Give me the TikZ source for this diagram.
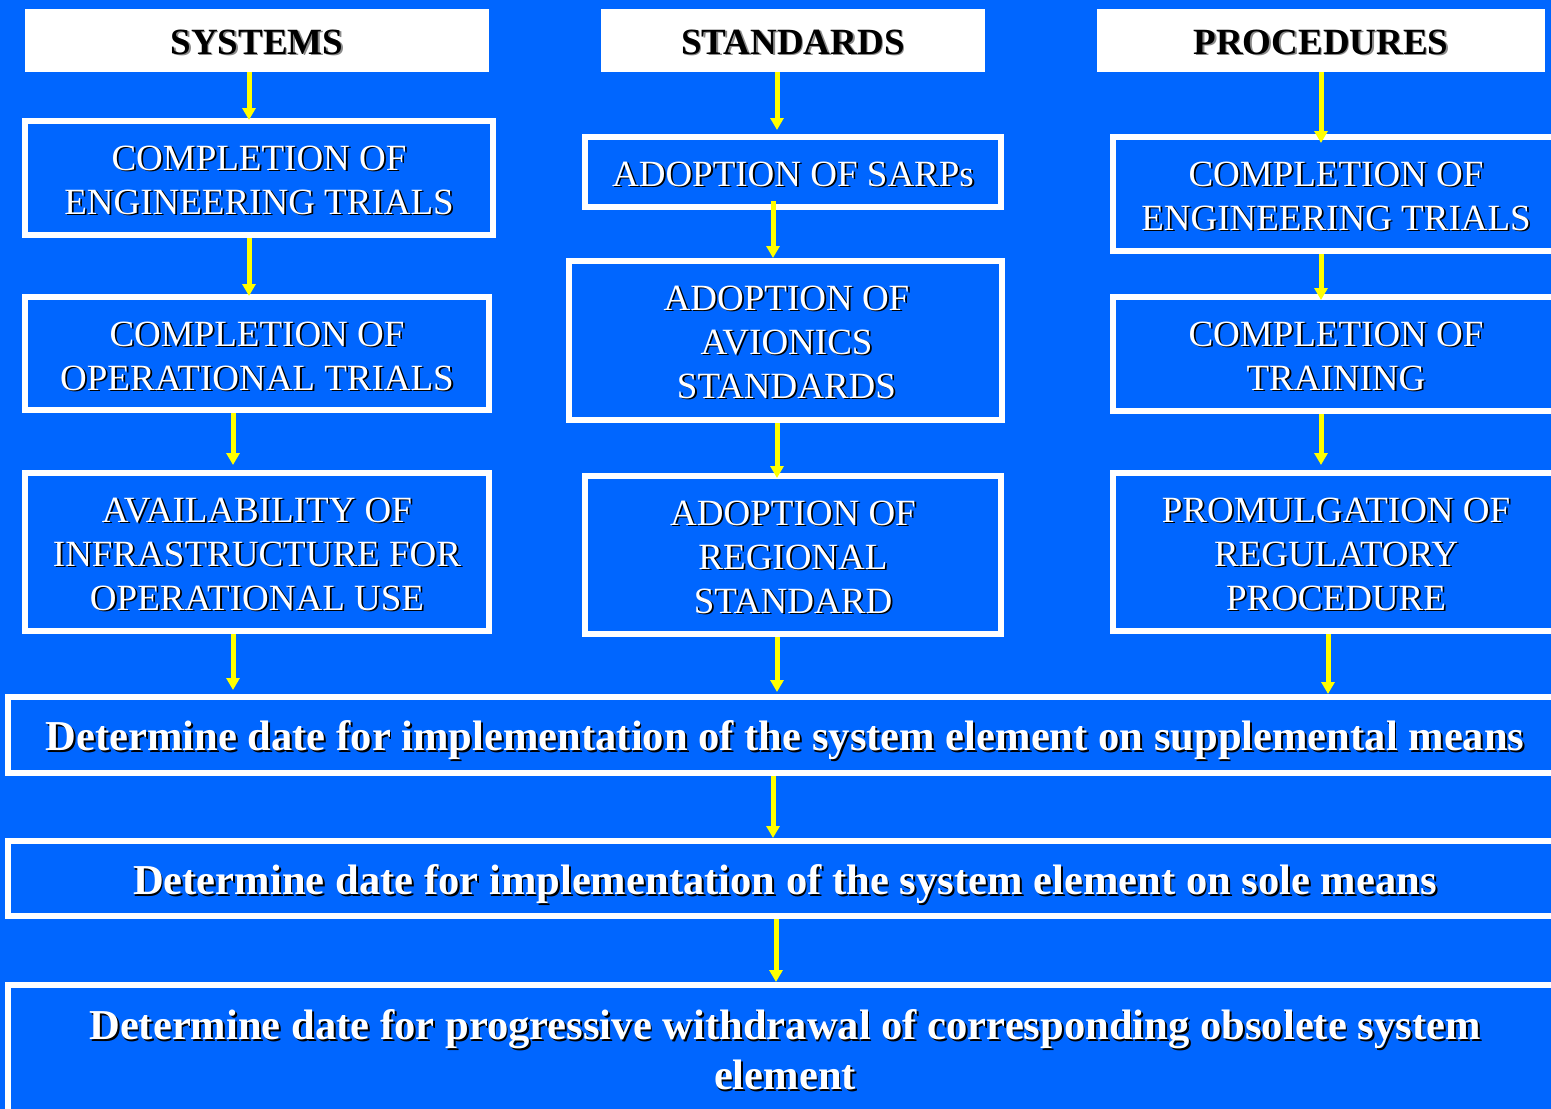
\documentclass[tikz,border=0pt]{standalone}
\usepackage{fontspec}
\setmainfont{Liberation Serif}
\usetikzlibrary{arrows.meta,calc}
\definecolor{bgblue}{RGB}{0,102,255}
\definecolor{arry}{RGB}{255,255,0}
\tikzset{
  boxst/.style={draw=white,line width=6pt,fill=bgblue,rectangle,inner sep=0pt},
  headst/.style={fill=white,draw=none,rectangle,inner sep=0pt,outer sep=0pt},
  txtst/.style={align=center,inner sep=0pt,outer sep=0pt},
  arr/.style={draw=arry,line width=5pt,-{Triangle[length=12pt,width=13pt]}},
  smallf/.style={font=\fontsize{37}{44}\selectfont},
  headf/.style={font=\bfseries\fontsize{37}{44}\selectfont},
  bigf/.style={font=\bfseries\fontsize{42.6}{50}\selectfont}
}
\newcommand\shtxt[5]{% name, x, y, style, text
  \node[txtst,#4,text=black] (#1s) at ($(#2,#3)+(1.8,1.8)$) {#5};
  \node[txtst,#4,text=white] (#1) at (#2,#3) {#5};}
\newcommand\hdtxt[4]{% name, x, y, text
  \node[txtst,headf,text=black!45] (#1s) at ($(#2,#3)+(1.5,1.5)$) {#4};
  \node[txtst,headf,text=black] (#1) at (#2,#3) {#4};}
\begin{document}
\begin{tikzpicture}[x=1pt,y=-1pt]
\fill[bgblue] (0,0) rectangle (1551,1109);
\useasboundingbox (0,0) rectangle (1551,1109);
% headers
\node[headst,minimum width=464pt,minimum height=63pt] (h1) at (257,40.5) {};
\node[headst,minimum width=384pt,minimum height=63pt] (h2) at (793,40.5) {};
\node[headst,minimum width=448pt,minimum height=63pt] (h3) at (1321,40.5) {};
\hdtxt{h1t}{257}{42}{SYSTEMS}
\hdtxt{h2t}{793}{42}{STANDARDS}
\hdtxt{h3t}{1321}{42}{PROCEDURES}
% column boxes
\node[boxst,minimum width=468pt,minimum height=114pt] (s1) at (259,178) {};
\node[boxst,minimum width=464pt,minimum height=113pt] (s2) at (257,353.5) {};
\node[boxst,minimum width=464pt,minimum height=158pt] (s3) at (257,552) {};
\node[boxst,minimum width=416pt,minimum height=70pt] (t1) at (793,172) {};
\node[boxst,minimum width=433pt,minimum height=159pt] (t2) at (785.5,340.5) {};
\node[boxst,minimum width=416pt,minimum height=158pt] (t3) at (793,555) {};
\node[boxst,minimum width=446pt,minimum height=114pt] (p1) at (1336,194) {};
\node[boxst,minimum width=446pt,minimum height=114pt] (p2) at (1336,354) {};
\node[boxst,minimum width=446pt,minimum height=158pt] (p3) at (1336,552) {};
% bottom boxes
\node[boxst,minimum width=1554pt,minimum height=76pt] (A) at (785,735) {};
\node[boxst,minimum width=1554pt,minimum height=75pt] (B) at (785,878.5) {};
\node[boxst,minimum width=1554pt,minimum height=133pt] (C) at (785,1051.5) {};
% texts
\shtxt{s1t}{259}{180}{smallf}{COMPLETION OF\\ENGINEERING TRIALS}
\shtxt{s2t}{257}{356}{smallf}{COMPLETION OF\\OPERATIONAL TRIALS}
\shtxt{s3t}{257}{554}{smallf}{AVAILABILITY OF\\INFRASTRUCTURE FOR\\OPERATIONAL USE}
\shtxt{t1t}{793}{174}{smallf}{ADOPTION OF SARPs}
\shtxt{t2t}{786.5}{342}{smallf}{ADOPTION OF\\AVIONICS\\STANDARDS}
\shtxt{t3t}{793}{557}{smallf}{ADOPTION OF\\REGIONAL\\STANDARD}
\shtxt{p1t}{1336}{196}{smallf}{COMPLETION OF\\ENGINEERING TRIALS}
\shtxt{p2t}{1336}{356}{smallf}{COMPLETION OF\\TRAINING}
\shtxt{p3t}{1336}{554}{smallf}{PROMULGATION OF\\REGULATORY\\PROCEDURE}
\shtxt{At}{785}{740}{bigf}{Determine date for implementation of the system element on supplemental means}
\shtxt{Bt}{785}{884}{bigf}{Determine date for implementation of the system element on sole means}
\shtxt{Ct}{785}{1050}{bigf}{Determine date for progressive withdrawal of corresponding obsolete system\\element}
% column x coordinates
\coordinate (xa) at (249,0);
\coordinate (xb) at (233,0);
\coordinate (xc) at (777,0);
\coordinate (xd) at (773,0);
\coordinate (xe) at (1321,0);
\coordinate (xf) at (1328,0);
\coordinate (xg) at (776,0);
% arrows
\draw[arr,shorten >=-2pt] (h1.south -| xa) -- (s1.north -| xa);
\draw[arr,shorten >=-2pt] (s1.south -| xa) -- (s2.north -| xa);
\draw[arr,shorten >=5pt] (s2.south -| xb) -- (s3.north -| xb);
\draw[arr,shorten >=4pt] (s3.south -| xb) -- (A.north -| xb);
\draw[arr,shorten >=4pt] (h2.south -| xc) -- (t1.north -| xc);
\draw[arr,shorten <=-9pt] (t1.south -| xd) -- (t2.north -| xd);
\draw[arr,shorten >=-5pt] (t2.south -| xc) -- (t3.north -| xc);
\draw[arr,shorten >=2pt] (t3.south -| xc) -- (A.north -| xc);
\draw[arr,shorten >=-9pt] (h3.south -| xe) -- (p1.north -| xe);
\draw[arr,shorten >=-6pt] (p1.south -| xe) -- (p2.north -| xe);
\draw[arr,shorten >=5pt] (p2.south -| xe) -- (p3.north -| xe);
\draw[arr] (p3.south -| xf) -- (A.north -| xf);
\draw[arr] (A.south -| xd) -- (B.north -| xd);
\draw[arr] (B.south -| xg) -- (C.north -| xg);
\end{tikzpicture}
\end{document}
